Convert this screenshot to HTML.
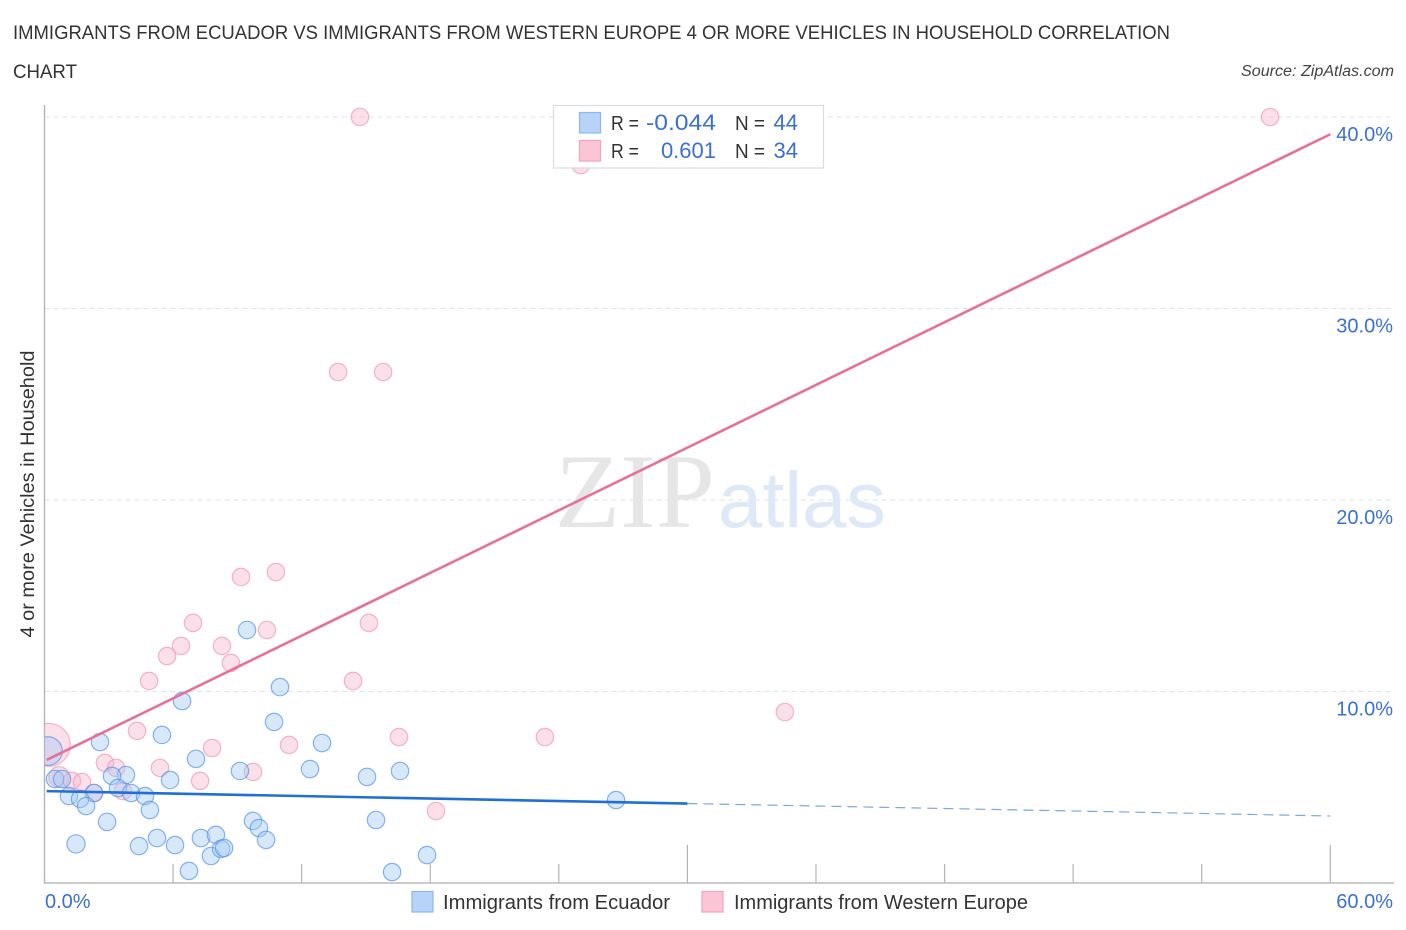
<!DOCTYPE html>
<html lang="en">
<head>
<meta charset="utf-8">
<title>Immigrants from Ecuador vs Immigrants from Western Europe correlation chart</title>
<style>
html,body{margin:0;padding:0;background:#fff;width:1406px;height:930px;overflow:hidden}
svg{display:block}
text{font-family:"Liberation Sans",sans-serif}
</style>
</head>
<body>
<svg id="chart" xmlns="http://www.w3.org/2000/svg" width="1406" height="930" viewBox="0 0 1406 930">
  <defs>
    <clipPath id="plot-clip"><rect x="44.5" y="90" width="1350" height="793"/></clipPath>
  </defs>
  <text x="13" y="39" font-size="19" fill="#333" textLength="1157" lengthAdjust="spacingAndGlyphs">IMMIGRANTS FROM ECUADOR VS IMMIGRANTS FROM WESTERN EUROPE 4 OR MORE VEHICLES IN HOUSEHOLD CORRELATION</text>
  <text x="13" y="78" font-size="19" fill="#333" textLength="64" lengthAdjust="spacingAndGlyphs">CHART</text>
  <text x="1241" y="76" font-size="15.5" font-style="italic" fill="#444" textLength="153" lengthAdjust="spacingAndGlyphs">Source: ZipAtlas.com</text>

  <g id="grid"></g>

  <g>
    <text x="555" y="527" style="font-family:'Liberation Serif',serif" font-size="106" fill="#e6e6e6" textLength="160" lengthAdjust="spacingAndGlyphs">ZIP</text>
    <text x="718" y="527" font-size="79" fill="#dde9f8" textLength="168" lengthAdjust="spacingAndGlyphs">atlas</text>
  </g>

  <g id="axes"></g>
  <g id="points" clip-path="url(#plot-clip)"></g>
  <g id="lines"></g>
  <g id="tick-labels"></g>

  <text transform="translate(34,494) rotate(-90)" font-size="19.5" fill="#333" text-anchor="middle" textLength="287" lengthAdjust="spacingAndGlyphs">4 or more Vehicles in Household</text>

  <g>
    <rect x="553.5" y="105.5" width="270" height="62.5" fill="#fff" fill-opacity="0.92" stroke="#dcdcdc" stroke-width="1.2"/>
    <rect x="579.5" y="112.5" width="21" height="20.5" fill="#b7d3f8" stroke="#8db8ef" stroke-width="1.2"/>
    <rect x="579.5" y="140.5" width="21" height="20.5" fill="#fcc5d6" stroke="#f2a3bd" stroke-width="1.2"/>
    <text x="611" y="130" font-size="20" fill="#333" textLength="28" lengthAdjust="spacingAndGlyphs">R =</text>
    <text x="646" y="130" font-size="22" fill="#3b70d0" textLength="70" lengthAdjust="spacingAndGlyphs">-0.044</text>
    <text x="735" y="130" font-size="20" fill="#333" textLength="30" lengthAdjust="spacingAndGlyphs">N =</text>
    <text x="798" y="130" font-size="22" fill="#3b70d0" text-anchor="end">44</text>
    <text x="611" y="158" font-size="20" fill="#333" textLength="28" lengthAdjust="spacingAndGlyphs">R =</text>
    <text x="716" y="158" font-size="22" fill="#3b70d0" text-anchor="end">0.601</text>
    <text x="735" y="158" font-size="20" fill="#333" textLength="30" lengthAdjust="spacingAndGlyphs">N =</text>
    <text x="798" y="158" font-size="22" fill="#3b70d0" text-anchor="end">34</text>
  </g>

  <g>
    <rect x="412" y="891.5" width="21" height="20.5" fill="#b7d3f8" stroke="#8db8ef" stroke-width="1.2"/>
    <text x="443" y="909" font-size="20" fill="#333" textLength="227" lengthAdjust="spacingAndGlyphs">Immigrants from Ecuador</text>
    <rect x="702" y="891.5" width="21" height="20.5" fill="#fcc5d6" stroke="#f2a3bd" stroke-width="1.2"/>
    <text x="734" y="909" font-size="20" fill="#333" textLength="294" lengthAdjust="spacingAndGlyphs">Immigrants from Western Europe</text>
  </g>
</svg>
<script>
var xTickValues = [0, 6, 12, 18, 24, 30, 36, 42, 48, 54, 60];
var majorXTicks = [30, 60];
var yGridValues = [10, 20, 30, 40];
var yTickLabels = ['10.0%', '20.0%', '30.0%', '40.0%'];
var xEndLabels = ['0.0%', '60.0%'];

var ecuadorX = [6.42,10.99,10.71,5.48,2.59,12.95,7.07,12.39,9.12,16.59,15.05,3.80,3.15,5.86,0.49,0.82,3.43,4.04,4.69,2.31,1.14,1.66,1.94,4.92,2.92,1.47,4.41,5.25,6.09,7.30,8.00,7.77,8.24,8.38,6.74,9.73,10.01,10.34,15.47,16.22,17.85,26.67,9.45,0.16];
var ecuadorY = [9.50,10.23,8.41,7.73,7.36,7.31,6.48,5.95,5.85,5.85,5.54,5.64,5.59,5.38,5.43,5.43,4.96,4.70,4.54,4.70,4.54,4.39,4.02,3.81,3.19,2.04,1.93,2.35,1.98,2.35,2.51,1.41,1.78,1.83,0.63,3.24,2.87,2.25,3.29,0.57,1.46,4.33,13.21,6.89];
var ecuadorWeight = [1,1,1,1,1,1,1,1,1,1,1,1,1,1,1,1,1,1,1,1,1,1,1,1,1,1.1,1,1,1,1,1,1,1,1,1,1,1,1,1,1,1,1,1,2.7];

var europeX = [14.72,57.19,25.03,13.70,15.80,10.80,9.17,6.93,15.14,10.38,6.37,8.28,5.72,8.70,4.88,14.40,34.55,4.32,16.54,23.35,7.82,11.41,2.82,3.34,5.39,9.73,7.26,0.68,1.28,1.75,2.31,3.66,18.27,0.2];
var europeY = [40.0,40.0,37.49,26.68,26.68,16.24,15.98,13.58,13.58,13.21,12.38,12.38,11.85,11.49,10.55,10.55,8.93,7.94,7.62,7.62,7.05,7.21,6.27,6.01,6.01,5.80,5.33,5.54,5.33,5.27,4.70,4.80,3.76,7.21];
var europeWeight = [1,1,1,1,1,1,1,1,1,1,1,1,1,1,1,1,1,1,1,1,1,1,1,1,1,1,1,1.4,1,1,1,1,1,6.1];

var ecuadorTrendStart = 4.8;
var ecuadorTrendEnd = 3.5;
var ecuadorSolidUntil = 30;
var europeTrendStart = 6.37;
var europeTrendEnd = 39.1;

var NS = 'http://www.w3.org/2000/svg';
function xScale(v) { return 44.5 + v * 21.43; }
function yScale(v) { return 883 - v * 19.15; }
function rScale(w) { return 8.7 * Math.sqrt(w); }
function make(tag, attrs, parent) {
  var el = document.createElementNS(NS, tag);
  for (var k in attrs) el.setAttribute(k, attrs[k]);
  parent.appendChild(el);
  return el;
}
function trendAt(a, b, x) { return a + (b - a) * x / 60; }

var gridG = document.getElementById('grid');
yGridValues.forEach(function (v) {
  var el = make('line', {x1: 44.5, x2: 1394, y1: yScale(v), y2: yScale(v), stroke: '#e2e2e2', 'stroke-width': 1, 'stroke-dasharray': '5 4'}, gridG);
  
  
});

var axesG = document.getElementById('axes');
var yAxis = make('line', {x1: 44.5, x2: 44.5, y1: 105, y2: 884, stroke: '#b4b4b4', 'stroke-width': 1.4}, axesG);


var xAxis = make('line', {x1: 44, x2: 1394, y1: 883, y2: 883, stroke: '#bcbcbc', 'stroke-width': 1.6}, axesG);


xTickValues.forEach(function (v) {
  if (v === 0) return;
  var top = majorXTicks.indexOf(v) >= 0 ? 845 : 864;
  var el = make('line', {x1: xScale(v), x2: xScale(v), y1: top, y2: 883, stroke: '#b4b4b4', 'stroke-width': 1.2}, axesG);
  
  
});

var pointsG = document.getElementById('points');
function drawSeries(xs, ys, ws, fill, stroke, name) {
  xs.forEach(function (x, i) {
    var c = make('circle', {cx: xScale(x), cy: yScale(ys[i]), r: rScale(ws[i]), fill: fill, 'fill-opacity': 0.42, stroke: stroke, 'stroke-opacity': 0.68, 'stroke-width': 1.2}, pointsG);
    
    
  });
}
drawSeries(europeX, europeY, europeWeight, '#f9b6cb', '#ee93b1', 'point-western-europe');
drawSeries(ecuadorX, ecuadorY, ecuadorWeight, '#a3c8f5', '#4f90e4', 'point-ecuador');

var linesG = document.getElementById('lines');
var l1 = make('line', {
  x1: xScale(0.1), y1: yScale(trendAt(europeTrendStart, europeTrendEnd, 0.1)),
  x2: xScale(60), y2: yScale(europeTrendEnd),
  stroke: '#e96f9b', 'stroke-width': 2.6
}, linesG);


var l2 = make('line', {
  x1: xScale(0.1), y1: yScale(trendAt(ecuadorTrendStart, ecuadorTrendEnd, 0.1)),
  x2: xScale(ecuadorSolidUntil), y2: yScale(trendAt(ecuadorTrendStart, ecuadorTrendEnd, ecuadorSolidUntil)),
  stroke: '#1f6fd8', 'stroke-width': 2.6
}, linesG);


var l3 = make('line', {
  x1: xScale(ecuadorSolidUntil), y1: yScale(trendAt(ecuadorTrendStart, ecuadorTrendEnd, ecuadorSolidUntil)),
  x2: xScale(60), y2: yScale(ecuadorTrendEnd),
  stroke: '#7ea6da', 'stroke-width': 1.2, 'stroke-dasharray': '10 6'
}, linesG);



var labelsG = document.getElementById('tick-labels');
yGridValues.forEach(function (v, i) {
  var t = make('text', {x: 1393, y: yScale(v) + 24, 'font-size': 20, fill: '#3b70d0', 'text-anchor': 'end'}, labelsG);
  t.textContent = yTickLabels[i];
  
  
});
var x0 = make('text', {x: 45, y: 908, 'font-size': 20, fill: '#3b70d0'}, labelsG);
x0.textContent = xEndLabels[0];


var x1 = make('text', {x: 1393, y: 908, 'font-size': 20, fill: '#3b70d0', 'text-anchor': 'end'}, labelsG);
x1.textContent = xEndLabels[1];


</script>
</body>
</html>
